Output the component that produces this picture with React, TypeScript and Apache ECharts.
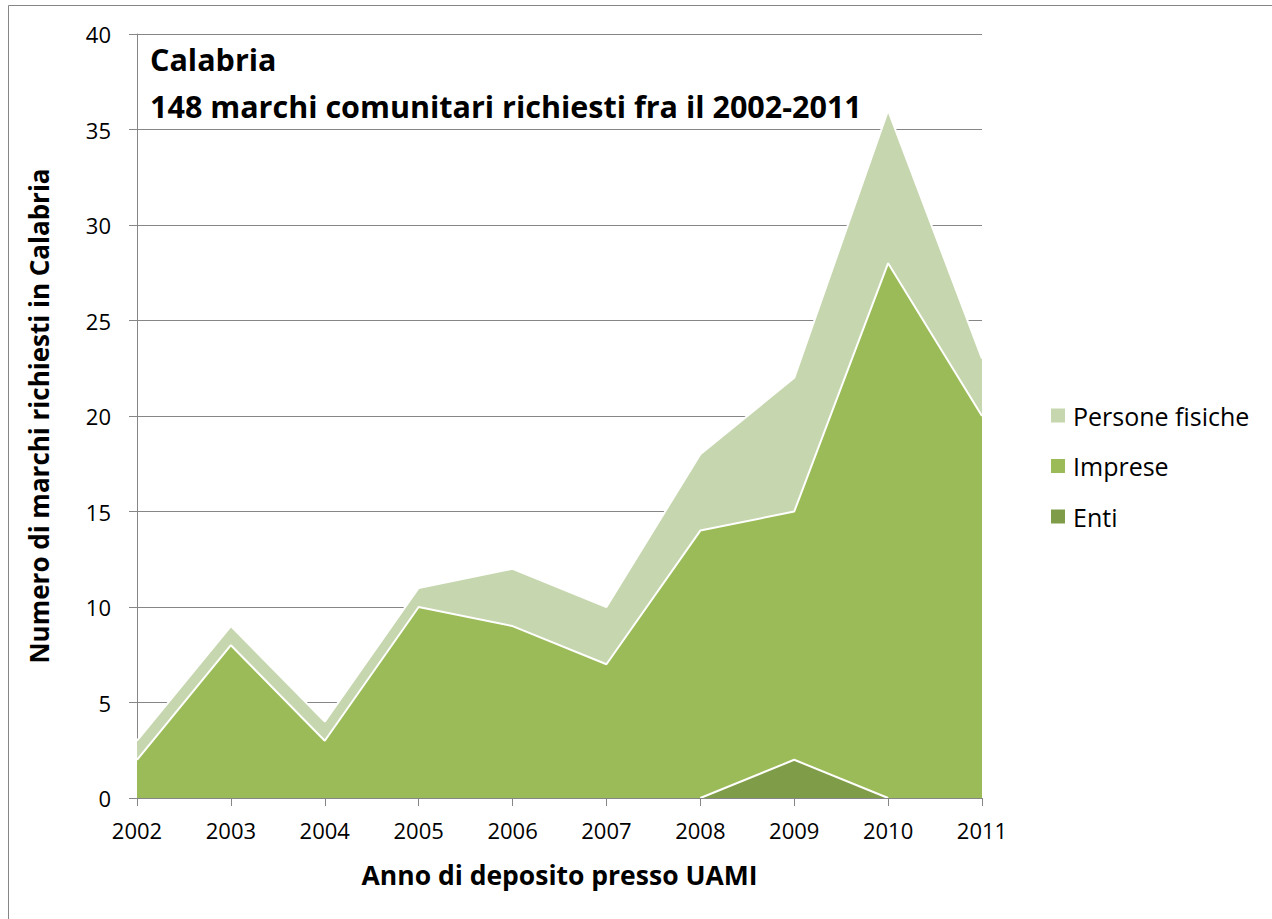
import React, { useEffect, useRef } from "react";
import * as echarts from "echarts";

const years = ["2002", "2003", "2004", "2005", "2006", "2007", "2008", "2009", "2010", "2011"];
const enti = [null, null, null, null, null, null, 0, 2, 0, null];
const imprese = [2, 8, 3, 10, 9, 7, 14, 13, 28, 20];
const persone = [1, 1, 1, 1, 3, 3, 4, 7, 8, 3];
const yTicks = { min: 0, max: 40, interval: 5 };

const FONT = "'Open Sans', sans-serif";
const GRAY = "#868686";

export default function App() {
  const ref = useRef<HTMLDivElement>(null);
  useEffect(() => {
    document.body.style.margin = "0";
    const chart = echarts.init(ref.current!, null, { renderer: "svg" });
    const areaSeries = (name: string, data: any[], color: string) => ({
      name,
      type: "line",
      stack: "total",
      data,
      symbol: "none",
      lineStyle: { color: "#ffffff", width: 2 },
      itemStyle: { color },
      areaStyle: { color, opacity: 1 },
      emphasis: { disabled: true },
    });
    chart.setOption({
      animation: false,
      textStyle: { fontFamily: FONT },
      title: {
        text: "Calabria\n148 marchi comunitari richiesti fra il 2002-2011",
        left: 145,
        top: 30,
        textStyle: { fontFamily: FONT, fontWeight: "bold", fontSize: 30.5, lineHeight: 47, color: "#000" },
      },
      grid: { left: 137, right: 290, top: 34, bottom: 121 },
      legend: {
        orient: "vertical",
        left: 1046,
        top: 398,
        itemWidth: 14,
        itemHeight: 14,
        itemGap: 25.5,
        icon: "rect",
        data: ["Persone fisiche", "Imprese", "Enti"],
        textStyle: { fontFamily: FONT, fontSize: 25, color: "#000", padding: [0, 0, 0, 3] },
      },
      xAxis: {
        type: "category",
        data: years,
        boundaryGap: false,
        z: 10,
        name: "Anno di deposito presso UAMI",
        nameLocation: "middle",
        nameGap: 63,
        nameTextStyle: { fontFamily: FONT, fontWeight: "bold", fontSize: 26.5, color: "#000" },
        axisLine: { lineStyle: { color: GRAY, width: 1 } },
        axisTick: { alignWithLabel: true, length: 8, lineStyle: { color: GRAY } },
        axisLabel: { fontFamily: FONT, fontSize: 22, color: "#000", margin: 21 },
        splitLine: { show: false },
      },
      yAxis: {
        type: "value",
        min: yTicks.min,
        max: yTicks.max,
        interval: yTicks.interval,
        name: "Numero di marchi richiesti in Calabria",
        nameLocation: "middle",
        nameGap: 85,
        nameRotate: 90,
        nameTextStyle: { fontFamily: FONT, fontWeight: "bold", fontSize: 26, color: "#000" },
        axisLine: { show: true, lineStyle: { color: GRAY, width: 1 } },
        axisTick: { show: true, length: 8, lineStyle: { color: GRAY } },
        axisLabel: { fontFamily: FONT, fontSize: 22, color: "#000", margin: 26 },
        splitLine: { show: true, lineStyle: { color: GRAY, width: 1 } },
      },
      graphic: [
        {
          type: "rect",
          shape: { x: 8.5, y: 5.5, width: 1400, height: 1000 },
          style: { fill: "none", stroke: GRAY, lineWidth: 1 },
          silent: true,
        },
      ],
      series: [
        areaSeries("Enti", enti, "#7f9c49"),
        areaSeries("Imprese", imprese, "#9bbb59"),
        areaSeries("Persone fisiche", persone, "#c6d6ae"),
      ],
    });
    return () => chart.dispose();
  }, []);
  return <div ref={ref} style={{ width: 1272, height: 919 }} />;
}
